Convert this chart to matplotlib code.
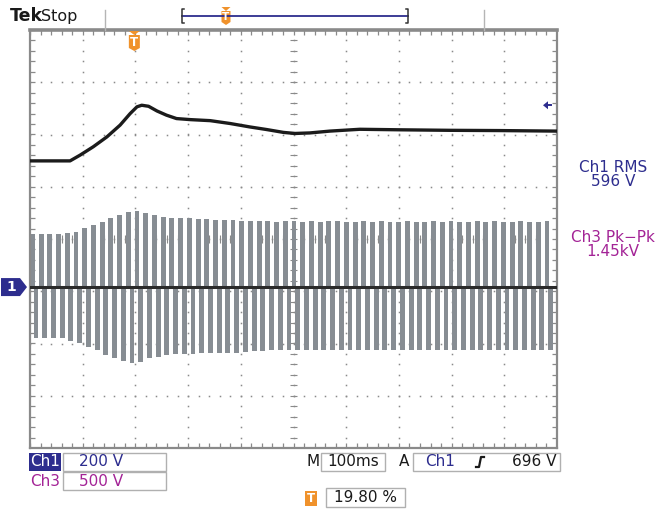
import numpy as np
import matplotlib
matplotlib.use("Agg")
import matplotlib.pyplot as plt
from matplotlib.patches import Rectangle, Polygon

plt.rcParams['font.family'] = ['DejaVu Sans']

# ---- acquisition settings ----
time_per_div_ms = 100
n_hdiv, n_vdiv = 10, 8
trigger_pos_pct = 19.80
ch1_volts_per_div = 200
ch3_volts_per_div = 500
ground_pos_div = -0.92          # both channels share this ground position
trigger_level_v = 696
ch1_rms_v = 596
ch3_pkpk_kv = 1.45

# ---- Ch1: slow voltage trace (time in ms, volts) ----
ch1_t_ms = [-198, -122, -103, -78, -52, -27, -8, 5, 14, 27, 43, 61, 80, 106,
            144, 182, 219, 251, 283, 305, 333, 371, 428, 504, 599, 694, 802]
ch1_v = [483, 483, 505, 537, 575, 620, 664, 690, 696, 692, 674, 658, 645, 641,
         637, 626, 613, 603, 592, 588, 590, 597, 604, 602, 600, 599, 597]

# ---- Ch3: line voltage, peak of each half cycle (V) ----
ch3_first_cycle_ms = -193.5
ch3_period_ms = 16.55
ch3_pos_peaks_v = [504, 507, 507, 507, 516, 529, 564, 593, 624, 660, 688, 720,
                   727, 705, 688, 672, 657, 657, 657, 647, 647, 640, 640, 640,
                   634, 630, 628, 632, 625, 630, 628, 626, 630, 624, 628, 630,
                   626, 622, 628, 626, 630, 624, 626, 628, 622, 626, 630, 624,
                   628, 626, 622, 628, 626, 630, 624, 626, 628, 624, 626, 628]
ch3_neg_peaks_v = [490, 488, 488, 488, 513, 538, 571, 602, 650, 682, 705, 729,
                   720, 682, 666, 650, 641, 641, 641, 634, 634, 634, 628, 628,
                   618, 612, 610, 606, 604, 602, 606, 600, 604, 598, 602, 600,
                   604, 598, 600, 602, 598, 600, 604, 598, 600, 602, 598, 600,
                   602, 598, 604, 600, 598, 602, 600, 598, 602, 600, 598, 600]

# ---- colours ----
GRID = '#8a8a8a'
TRACE1 = '#1b1b1b'
TRACE3 = '#878d93'
BLUE = '#2d2d8e'
MAGENTA = '#a32396'
ORANGE = '#f0922b'

W, H = 668, 511
fig = plt.figure(figsize=(W / 100, H / 100), dpi=100)
fig.patch.set_facecolor('white')

# graticule area in pixels
gx0, gx1, gy0, gy1 = 30, 557, 30, 448
ax = fig.add_axes([gx0 / W, 1 - gy1 / H, (gx1 - gx0) / W, (gy1 - gy0) / H])
t_left = -trigger_pos_pct / 100 * n_hdiv * time_per_div_ms
t_right = t_left + n_hdiv * time_per_div_ms
ax.set_xlim(t_left, t_right)
ax.set_ylim(-n_vdiv / 2, n_vdiv / 2)
ax.set_xticks([])
ax.set_yticks([])
for s in ax.spines.values():
    s.set_color(GRID)
    s.set_linewidth(1.6)
ax.spines['top'].set_linewidth(2.6)

# ---- graticule: dotted division lines, center cross, border ticks ----
div_t = time_per_div_ms
minor_t = div_t / 5
xs_major = [t_left + k * div_t for k in range(1, n_hdiv)]
ys_major = [-n_vdiv / 2 + k for k in range(1, n_vdiv)]
ys_minor = np.arange(-n_vdiv / 2, n_vdiv / 2 + 1e-9, 0.2)
xs_minor = np.arange(t_left, t_right + 1e-9, minor_t)
for xm in xs_major:
    ax.plot(np.full(ys_minor.size, xm), ys_minor, ls='none', marker='s',
            ms=1.1, color=GRID, mew=0, zorder=1)
for ym in ys_major:
    ax.plot(xs_minor, np.full(xs_minor.size, ym), ls='none', marker='s',
            ms=1.1, color=GRID, mew=0, zorder=1)
tc = t_left + n_hdiv / 2 * div_t
tick_h = 0.07
tick_w = 0.07 * div_t
ax.vlines(xs_minor, -tick_h, tick_h, color=GRID, lw=0.8, zorder=1)
ax.hlines(ys_minor, tc - tick_w, tc + tick_w, color=GRID, lw=0.8, zorder=1)
ax.vlines(xs_minor, n_vdiv / 2 - tick_h * 1.3, n_vdiv / 2, color=GRID, lw=0.9, zorder=1)
ax.vlines(xs_minor, -n_vdiv / 2, -n_vdiv / 2 + tick_h * 1.3, color=GRID, lw=0.9, zorder=1)
ax.hlines(ys_minor, t_left, t_left + tick_w * 1.3, color=GRID, lw=0.9, zorder=1)
ax.hlines(ys_minor, t_right - tick_w * 1.3, t_right, color=GRID, lw=0.9, zorder=1)

# ---- Ch3 half cycles drawn as vertical bars from ground ----
bar_w = 0.56 * ch3_period_ms
pos_t = [ch3_first_cycle_ms + i * ch3_period_ms for i in range(len(ch3_pos_peaks_v))]
neg_t = [t + 0.42 * ch3_period_ms for t in pos_t]
ax.bar(pos_t, [v / ch3_volts_per_div for v in ch3_pos_peaks_v], width=bar_w,
       bottom=ground_pos_div, color=TRACE3, lw=0, zorder=2)
ax.bar(neg_t, [-v / ch3_volts_per_div for v in ch3_neg_peaks_v], width=bar_w,
       bottom=ground_pos_div, color=TRACE3, lw=0, zorder=2)
ax.axhline(ground_pos_div, color='#2a2a2a', lw=2.2, zorder=3)

# ---- Ch1 trace ----
ax.plot(ch1_t_ms, [v / ch1_volts_per_div + ground_pos_div for v in ch1_v],
        color=TRACE1, lw=2.4, zorder=4, solid_joinstyle='round')

# ---- overlay in pixel coordinates for the readout decorations ----
ov = fig.add_axes([0, 0, 1, 1], zorder=5)
ov.set_xlim(0, W)
ov.set_ylim(H, 0)
ov.axis('off')
ov.patch.set_alpha(0)

def t_to_px(t):
    return gx0 + (t - t_left) / (t_right - t_left) * (gx1 - gx0)

def div_to_py(d):
    return gy0 + (n_vdiv / 2 - d) / n_vdiv * (gy1 - gy0)

def trig_icon(xc, ytop, h=15, w=11, fs=8.5):
    ov.add_patch(Polygon([[xc - w / 2, ytop], [xc + w / 2, ytop], [xc, ytop + 4]],
                         closed=True, color=ORANGE, lw=0))
    y0 = ytop + 4
    ov.add_patch(Polygon([[xc - w / 2, y0], [xc + w / 2, y0], [xc + w / 2, y0 + h - 3],
                          [xc, y0 + h], [xc - w / 2, y0 + h - 3]], closed=True,
                         color=ORANGE, lw=0))
    ov.text(xc, y0 + h / 2 - 0.5, 'T', color='white', fontsize=fs, fontweight='bold',
            ha='center', va='center')

# header
ov.text(10, 16, 'Tek', fontsize=12.5, fontweight='bold', color='#1a1a1a',
        va='center', ha='left')
ov.text(41, 16, 'Stop', fontsize=11.5, color='#1a1a1a', va='center', ha='left')
ov.plot([105, 105], [10, 30], color='#b5b5b5', lw=1)
ov.plot([484, 484], [10, 30], color='#b5b5b5', lw=1)
ov.plot([182, 408], [16, 16], color=BLUE, lw=1.3)
ov.plot([184, 182, 182, 184], [9, 9, 23, 23], color='#333333', lw=1.1)
ov.plot([406, 408, 408, 406], [9, 9, 23, 23], color='#333333', lw=1.1)
trig_icon(226, 7, h=14, w=9, fs=7.5)

# trigger time marker above graticule
trig_icon(t_to_px(0), 31, h=16, w=11)

# ground marker for channel 1
gy = div_to_py(ground_pos_div)
ov.add_patch(Polygon([[1, gy - 9], [20, gy - 9], [27, gy], [20, gy + 9], [1, gy + 9]],
                     closed=True, color=BLUE, lw=0))
ov.text(11, gy, '1', color='white', fontsize=10, fontweight='bold', ha='center', va='center')

# trigger level arrow on the right
ty = div_to_py(trigger_level_v / ch1_volts_per_div + ground_pos_div)
ov.add_patch(Polygon([[543, ty], [548, ty - 4], [548, ty + 4]], closed=True, color=BLUE, lw=0))
ov.plot([547, 551], [ty, ty], color=BLUE, lw=1.4)

# measurement readouts
ov.text(613, 168, 'Ch1 RMS', color=BLUE, fontsize=11, ha='center', va='center')
ov.text(613, 182, f'{ch1_rms_v} V', color=BLUE, fontsize=11, ha='center', va='center')
ov.text(613, 238, 'Ch3 Pk\u2212Pk', color=MAGENTA, fontsize=11, ha='center', va='center')
ov.text(613, 252, f'{ch3_pkpk_kv:.2f}kV', color=MAGENTA, fontsize=11, ha='center', va='center')

# bottom readouts
def box(x0, y0, x1, y1):
    ov.add_patch(Rectangle((x0, y0), x1 - x0, y1 - y0, fill=False, ec='#b0b0b0', lw=1))

ov.add_patch(Rectangle((29, 453), 32, 18, color=BLUE, lw=0))
ov.text(45, 462, 'Ch1', color='white', fontsize=11, ha='center', va='center')
box(63, 453, 166, 471)
ov.text(101, 462, f'{ch1_volts_per_div} V', color=BLUE, fontsize=11, ha='center', va='center')
ov.text(45, 481, 'Ch3', color=MAGENTA, fontsize=11, ha='center', va='center')
box(63, 472, 166, 490)
ov.text(101, 481, f'{ch3_volts_per_div} V', color=MAGENTA, fontsize=11, ha='center', va='center')

ov.text(313, 462, 'M', color='#1a1a1a', fontsize=11, ha='center', va='center')
box(321, 453, 385, 471)
ov.text(353, 462, f'{time_per_div_ms}ms', color='#1a1a1a', fontsize=11, ha='center', va='center')
ov.text(404, 462, 'A', color='#1a1a1a', fontsize=11, ha='center', va='center')
box(413, 453, 560, 471)
ov.text(440, 462, 'Ch1', color=BLUE, fontsize=11, ha='center', va='center')
ov.plot([476, 479, 481, 484], [467, 467, 457, 457], color='#1a1a1a', lw=1.6)
ov.text(556, 462, f'{trigger_level_v} V', color='#1a1a1a', fontsize=11, ha='right', va='center')

ov.add_patch(Rectangle((305, 491), 12, 15, color=ORANGE, lw=0))
ov.text(311, 498.5, 'T', color='white', fontsize=8.5, fontweight='bold', ha='center', va='center')
box(326, 488, 405, 507)
ov.text(365, 498, f'{trigger_pos_pct:.2f} %', color='#1a1a1a', fontsize=11, ha='center', va='center')

fig.savefig('out.png', dpi=100, facecolor='white')
